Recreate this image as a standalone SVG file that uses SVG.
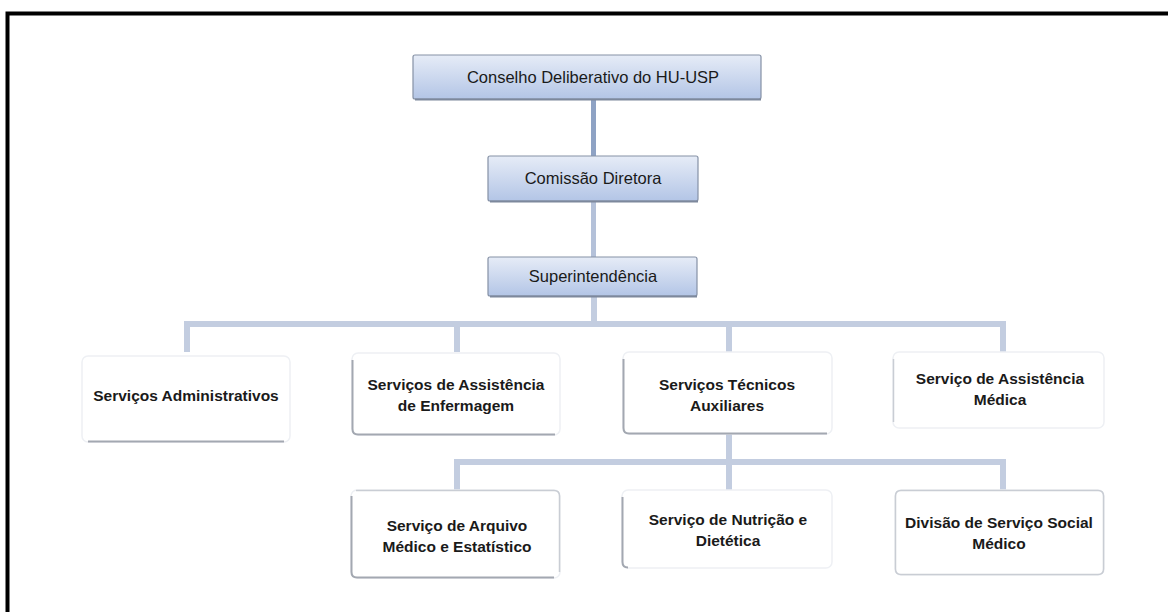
<svg xmlns="http://www.w3.org/2000/svg" width="1168" height="612" viewBox="0 0 1168 612">
  <defs>
    <linearGradient id="blueFill" x1="0" y1="0" x2="0" y2="1">
      <stop offset="0" stop-color="#e6ecf7"/>
      <stop offset="1" stop-color="#b3c5e6"/>
    </linearGradient>
    <style>
      .top rect.box { fill: url(#blueFill); stroke: #8591a6; stroke-width: 1.2; }
      .top line.shadow { stroke: #7d889c; stroke-width: 2; }
      .top text { font-family: "Liberation Sans", Arial, sans-serif; font-size: 16.5px; fill: #1a1a1a; text-anchor: middle; }
      .sub rect.box { fill: #ffffff; stroke: #eef0f4; stroke-width: 1.5; }
      .sub path.edge { fill: none; stroke: #a3a8b1; stroke-width: 2; }
      .sub path.faint { fill: none; stroke: #c9cdd4; stroke-width: 1.5; }
      .sub text { font-family: "Liberation Sans", Arial, sans-serif; font-size: 15.5px; font-weight: bold; fill: #1a1a1a; text-anchor: middle; }
      .conn path { fill: none; stroke: #c3cde0; stroke-width: 6; }
      .conn path.dark { stroke: #8ea2c4; stroke-width: 5; }
      .conn path.mid { stroke: #b4c1d9; stroke-width: 5; }
    </style>
  </defs>
  <rect x="0" y="0" width="1168" height="612" fill="#ffffff"/>
  <path d="M7.5,612 V13.5 H1168" fill="none" stroke="#000000" stroke-width="4"/>

  <g id="connectors" class="conn">
    <path class="dark" d="M593.5,99 V156"/>
    <path class="mid" d="M593.5,201 V257"/>
    <path d="M594,296 V324"/>
    <path d="M187,352 V324 H1003 V352"/>
    <path d="M457,324 V352"/>
    <path d="M729,324 V352"/>
    <path d="M729,434 V462"/>
    <path d="M457,490 V462 H1003 V490"/>
    <path d="M729,462 V490"/>
  </g>

  <g id="conselho" class="top">
    <rect class="box" x="413" y="55" width="348" height="44" rx="2"/>
    <line class="shadow" x1="415" y1="99.5" x2="761" y2="99.5"/>
    <text x="593" y="83">Conselho Deliberativo do HU-USP</text>
  </g>
  <g id="comissao" class="top">
    <rect class="box" x="488" y="156" width="210" height="45" rx="2"/>
    <line class="shadow" x1="490" y1="201.5" x2="698" y2="201.5"/>
    <text x="593" y="184">Comissão Diretora</text>
  </g>
  <g id="superintendencia" class="top">
    <rect class="box" x="488" y="257" width="209" height="39" rx="2"/>
    <line class="shadow" x1="490" y1="296.5" x2="697" y2="296.5"/>
    <text x="593" y="282">Superintendência</text>
  </g>

  <g id="admin" class="sub">
    <rect class="box" x="82" y="356" width="208" height="86" rx="6"/>
    <path class="edge" d="M88,441.5 H284"/>
    <text x="186" y="401">Serviços Administrativos</text>
  </g>
  <g id="enfermagem" class="sub">
    <rect class="box" x="352" y="353" width="208" height="82" rx="6"/>
    <path class="edge" d="M352.5,360 V429 Q352.5,434.5 358,434.5 H555"/>
    <text x="456" y="390">Serviços de Assistência</text>
    <text x="456" y="411">de Enfermagem</text>
  </g>
  <g id="tecnicos" class="sub">
    <rect class="box" x="623" y="352" width="209" height="82" rx="6"/>
    <path class="edge" d="M623.5,359 V428 Q623.5,433.5 629,433.5 H827"/>
    <text x="727" y="390">Serviços Técnicos</text>
    <text x="727" y="411">Auxiliares</text>
  </g>
  <g id="medica" class="sub">
    <rect class="box" x="893" y="352" width="211" height="76" rx="6"/>
    <path class="faint" d="M893.5,359 V422"/>
    <text x="1000" y="384">Serviço de Assistência</text>
    <text x="1000" y="405">Médica</text>
  </g>
  <g id="arquivo" class="sub">
    <rect class="box" x="351" y="490" width="209" height="88" rx="6"/>
    <path class="faint" d="M356,490.5 H554 Q559.5,490.5 559.5,496 V572"/>
    <path class="edge" d="M351.5,496 V572 Q351.5,577.5 357,577.5 H554"/>
    <text x="457" y="531">Serviço de Arquivo</text>
    <text x="457" y="552">Médico e Estatístico</text>
  </g>
  <g id="nutricao" class="sub">
    <rect class="box" x="622" y="490" width="210" height="78" rx="6"/>
    <path class="edge" d="M622.5,497 V562 Q622.5,567.5 628,567.5"/>
    <text x="728" y="525">Serviço de Nutrição e</text>
    <text x="728" y="546">Dietética</text>
  </g>
  <g id="divisao" class="sub">
    <rect class="box" x="895" y="490" width="209" height="85" rx="6"/>
    <path class="faint" d="M901,490.5 H1098 Q1103.5,490.5 1103.5,496 V569 Q1103.5,574.5 1098,574.5 H901 Q895.5,574.5 895.5,569 V496 Q895.5,490.5 901,490.5"/>
    <text x="999" y="528">Divisão de Serviço Social</text>
    <text x="999" y="549">Médico</text>
  </g>
</svg>
